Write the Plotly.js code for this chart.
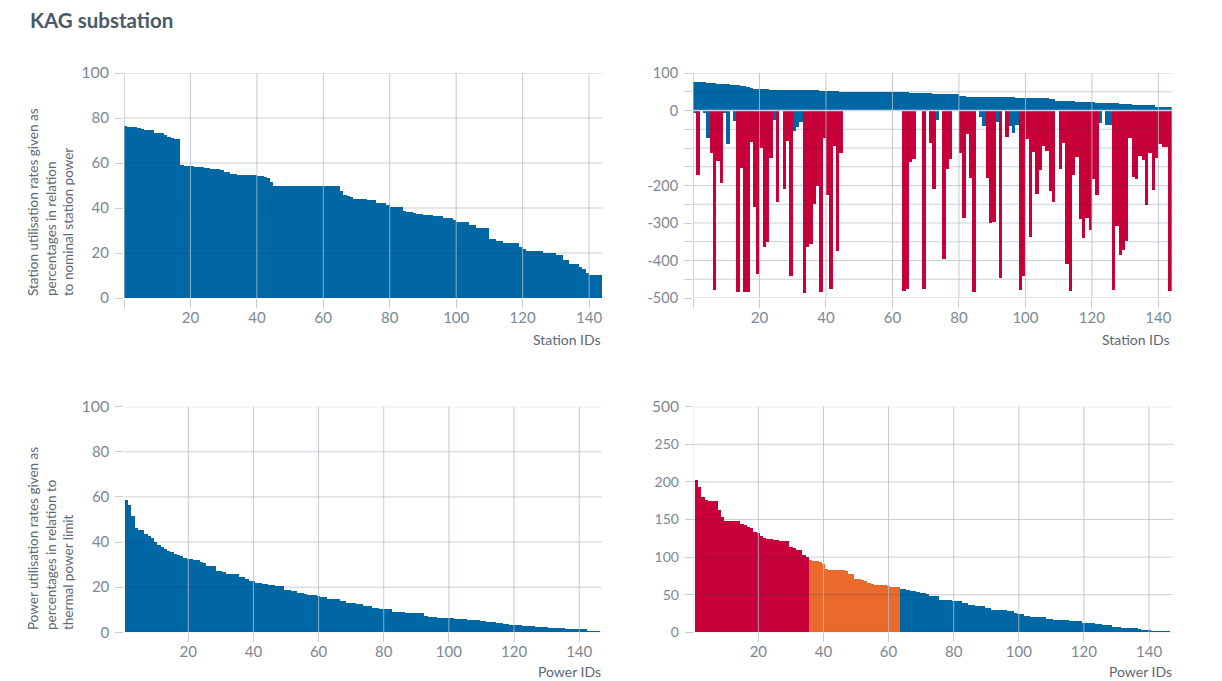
<!DOCTYPE html>
<html>
<head>
<meta charset="utf-8">
<script src="https://cdn.plot.ly/plotly-3.0.1.min.js"></script>
<style>
  html, body { margin: 0; padding: 0; background: #ffffff; }
  #chart { width: 1222px; height: 681px; }
</style>
</head>
<body>
<div id="chart"></div>
<script>
// ---------------- DATA ----------------
// Top-left: station utilisation (%), stations sorted descending
const stationUtilisation = [
  76.4, 76.0, 76.0, 76.0, 75.6, 75.0, 74.7, 74.7, 74.7, 73.3,
  73.3, 73.3, 72.3, 71.7, 71.1, 70.7, 70.7, 59.1, 58.7, 58.7,
  58.7, 58.2, 58.2, 58.2, 57.8, 57.8, 57.3, 57.3, 57.3, 56.9,
  56.0, 56.0, 55.1, 55.1, 54.7, 54.7, 54.7, 54.7, 54.7, 54.7,
  54.2, 54.2, 53.8, 53.3, 51.6, 49.8, 49.8, 49.8, 49.8, 49.8,
  49.8, 49.8, 49.8, 49.8, 49.8, 49.8, 49.8, 49.8, 49.8, 49.8,
  49.8, 49.8, 49.8, 49.8, 49.8, 47.7, 45.6, 45.3, 44.9, 44.0,
  44.0, 44.0, 44.0, 43.6, 43.6, 43.6, 42.4, 42.4, 42.4, 41.2,
  40.6, 40.6, 40.6, 40.6, 38.8, 38.2, 38.2, 37.6, 37.2, 37.2,
  36.7, 36.7, 36.7, 36.4, 36.4, 36.4, 35.6, 35.6, 35.6, 34.7,
  33.9, 33.9, 33.9, 33.9, 32.6, 32.6, 31.3, 31.0, 31.0, 31.0,
  26.4, 26.4, 25.5, 25.5, 24.6, 24.6, 24.6, 24.6, 24.6, 22.8,
  21.9, 20.9, 20.9, 20.9, 20.9, 20.9, 20.1, 20.1, 20.1, 20.1,
  19.3, 19.3, 16.9, 16.9, 15.1, 15.1, 15.1, 13.9, 12.7, 11.0,
  10.2, 10.2, 10.2, 10.2
];

// Top-right: positive part (blue)
const stationPositive = [
  76, 76, 76, 76, 73.5, 73.5, 73.5, 71, 71, 71,
  71, 68, 68, 68, 65, 65, 62, 59, 57, 57,
  57, 57, 57, 55, 55, 55, 55, 55, 55, 55,
  55, 55, 55, 55, 55, 55, 55, 55, 52, 52,
  52, 52, 52, 52, 49.5, 49.5, 49.5, 49.5, 49.5, 49.5,
  49.5, 49.5, 49.5, 49.5, 49.5, 49.5, 49.5, 49.5, 49.5, 49.5,
  49.5, 49.5, 49.5, 49.5, 49.5, 46, 46, 46, 46, 46,
  46, 46, 43, 43, 43, 43, 43, 43, 43, 43,
  39, 39, 37, 37, 37, 37, 37, 37, 37, 37,
  37, 37, 37, 37, 37, 37, 37, 34, 34, 34,
  34, 34, 34, 34, 34, 34, 34, 30, 30, 26.5,
  26.5, 26.5, 26.5, 26.5, 26.5, 23.5, 23.5, 23.5, 23.5, 23.5,
  23.5, 21, 21, 21, 21, 21, 21, 21, 17.5, 17.5,
  17.5, 17.5, 14.5, 14.5, 14.5, 14.5, 14.5, 14.5, 14.5, 10,
  10, 10, 10, 10
];

// Top-right: negative part, with its colour class (R = red, B = blue)
const stationNegative = [
  -7, -172, null, -7, -72, -114, -479, -135, -194, -6,
  -88, null, -27, -483, -152, -483, -483, -83, -256, -437,
  -99, -363, -350, -126, -24, -243, null, -209, -80, -440,
  -54, -43, -30, -486, -363, -356, -249, -201, -483, -72,
  -225, -476, -95, -374, -112, null, null, null, null, null,
  null, null, null, null, null, null, null, null, null, null,
  null, null, null, -480, -476, -136, -129, null, null, -476,
  null, -86, -209, -25, null, -396, -156, -129, null, null,
  -112, -286, -63, -179, -483, null, -16, -40, -179, -299,
  -296, -30, -446, null, -70, -40, -59, -39, -479, -441,
  -76, -338, -110, -223, -159, -95, -107, -214, -243, null,
  -156, -86, -409, -480, -172, -125, -289, -339, -286, -319,
  -183, -225, -32, null, -39, -39, -479, -308, -385, -372,
  -347, -74, -178, -183, -121, -132, -252, -112, -212, -126,
  -88, -96, -96, -480
];
const stationNegativeClass = [
  'B','R','','B','B','R','R','R','R','B',
  'B','','B','R','R','R','R','R','R','R',
  'R','R','R','R','B','R','','R','R','R',
  'B','B','B','R','R','R','R','R','R','R',
  'R','R','R','R','R','','','','','',
  '','','','','','','','','','',
  '','','','R','R','R','R','','','R',
  '','R','R','B','','R','R','R','','',
  'R','R','R','R','R','','B','B','R','R',
  'R','B','R','','R','B','B','B','R','R',
  'R','R','R','R','R','R','R','R','R','',
  'R','R','R','R','R','R','R','R','R','R',
  'R','R','B','','B','B','R','R','R','R',
  'R','R','R','R','R','R','R','R','R','R',
  'R','R','R','R'
];

// Bottom-left: power utilisation (%) relative to thermal power limit
const powerUtilisation = [
  58.6, 56.4, 51.6, 46.4, 45.3, 45.3, 43.6, 42.8, 41.8, 40.2,
  38.6, 37.6, 37.0, 36.2, 35.4, 34.8, 34.4, 33.7, 33.1, 32.6,
  32.6, 32.2, 32.1, 31.2, 30.7, 29.5, 29.5, 29.5, 27.2, 27.2,
  26.7, 26.0, 26.0, 25.7, 25.7, 24.4, 24.4, 23.6, 22.7, 22.7,
  22.0, 22.0, 21.4, 21.4, 21.0, 21.0, 20.5, 20.5, 20.5, 18.9,
  18.9, 18.4, 18.4, 17.6, 17.4, 17.0, 16.6, 16.6, 16.6, 16.3,
  15.5, 15.5, 14.7, 14.7, 14.7, 14.7, 13.9, 13.9, 13.1, 13.1,
  13.1, 12.4, 12.4, 11.6, 11.6, 11.6, 10.6, 10.6, 10.3, 10.3,
  10.3, 10.3, 9.1, 9.1, 9.1, 9.1, 8.7, 8.7, 8.7, 8.4,
  8.4, 8.4, 7.2, 6.7, 6.7, 6.7, 6.2, 6.2, 6.2, 6.2,
  6.2, 5.7, 5.7, 5.7, 5.7, 5.4, 5.4, 5.4, 5.4, 4.9,
  4.9, 4.6, 4.6, 4.6, 4.0, 4.0, 3.6, 3.6, 3.3, 3.3,
  3.3, 3.3, 2.7, 2.7, 2.7, 2.7, 2.2, 2.2, 2.2, 2.2,
  1.8, 1.8, 1.8, 1.8, 1.8, 1.5, 1.5, 1.5, 1.5, 1.5,
  1.4, 1.4, 0.6, 0.6, 0.6, 0.6, 0.2
];

// Bottom-right: power values
const powerValues = [
  202.5, 192.8, 179.5, 176, 174.7, 174.7, 174.7, 162.6, 152.9, 148,
  148, 148, 148, 148, 143.6, 142.3, 140.5, 138.3, 133, 131.7,
  128.1, 125.9, 124.2, 124.2, 122.9, 122.9, 122, 122, 122, 113.6,
  111.8, 110, 110, 103.4, 100.5, 96.3, 95, 95, 93.6, 91,
  84.3, 83, 83, 83, 83, 83, 81.7, 77.7, 77.7, 71,
  71, 69.7, 67.9, 65.3, 64, 63, 63, 63, 63, 61.8,
  60.4, 60.4, 60.4, 57.8, 57, 56.4, 55.1, 55.1, 53.8, 52.9,
  52.9, 51.1, 48.9, 48.9, 48.9, 43.1, 43.1, 43.1, 43.1, 41.8,
  41.8, 41.8, 38.7, 38.7, 36.5, 36.5, 35.1, 35.1, 35.1, 32,
  32, 29.8, 29.8, 29.8, 29.8, 29.8, 28.5, 28.5, 26.3, 24.5,
  24.5, 21.9, 21.9, 20.1, 20.1, 20.1, 20.1, 20.1, 18.3, 18.3,
  16.6, 16.6, 16.6, 16.6, 16.6, 14.8, 14.8, 14.8, 14.8, 12.6,
  12.6, 12.6, 12.6, 10.9, 10.9, 9.1, 9.1, 9.1, 6.5, 6.5,
  6.5, 5.6, 5.6, 5.6, 5.6, 5.6, 4.3, 3.4, 3.4, 3.4,
  2.1, 2.1, 2.1, 2.1, 2.1, 2.1, 1.0
];
const powerThresholds = { high: 100, mid: 60 };

// Axis ticks
const idTickVals = [0, 20, 40, 60, 80, 100, 120, 140];
const idTickText = ['', '20', '40', '60', '80', '100', '120', '140'];
const pctTickVals = [0, 20, 40, 60, 80, 100];
const pctTickText = ['0', '20', '40', '60', '80', '<span style="font-size:16px">100</span>'];
const diffTickVals = [-500, -450, -400, -350, -300, -250, -200, -150, -100, -50, 0, 50, 100];
const diffTickText = ['-500', '', '-400', '', '-300', '', '-200', '', '', '', '0', '', '100'];
const powTickVals = [0, 50, 100, 150, 200, 250, 300];
const powTickText = ['0', '50', '100', '150', '200', '250', '<span style="font-size:15.5px">500</span>'];

// ---------------- STYLE ----------------
const BLUE = '#0067a5';
const RED = '#c8003a';
const ORANGE = '#e96a2b';
const GRID_H = 'rgba(35,55,75,0.24)';
const GRID_V = 'rgba(178,190,202,0.8)';
const TICK = '#c6ced6';
const FONT = 'Lato, "Open Sans", sans-serif';
const LABEL = '#7b8894';
const TITLE = '#5c6873';

const stationIds = stationUtilisation.map((_, i) => i + 1);
const powerIds = powerUtilisation.map((_, i) => i + 1);

const W = 1222, H = 681;
const px = v => v / W;
const py = v => 1 - v / H;

const traces = [
  { type: 'bar', x: stationIds, y: stationUtilisation, width: 1, offset: -1,
    marker: { color: BLUE, line: { width: 0 } }, xaxis: 'x', yaxis: 'y', hoverinfo: 'skip' },
  { type: 'bar', x: stationIds, y: stationPositive, width: 1, offset: -1,
    marker: { color: BLUE, line: { width: 0 } }, xaxis: 'x2', yaxis: 'y2', hoverinfo: 'skip' },
  { type: 'bar', x: stationIds, y: stationNegative, width: 1, offset: -1,
    marker: { color: stationNegativeClass.map(c => c === 'B' ? BLUE : RED), line: { width: 0 } },
    xaxis: 'x2', yaxis: 'y2', hoverinfo: 'skip' },
  { type: 'bar', x: powerIds, y: powerUtilisation, width: 1,
    marker: { color: BLUE, line: { width: 0 } }, xaxis: 'x3', yaxis: 'y3', hoverinfo: 'skip' },
  { type: 'bar', x: powerIds, y: powerValues, width: 1,
    marker: { color: powerValues.map(v => v >= powerThresholds.high ? RED : (v >= powerThresholds.mid ? ORANGE : BLUE)), line: { width: 0 } },
    xaxis: 'x4', yaxis: 'y4', hoverinfo: 'skip' }
];

function xAxis(domain, range, anchor) {
  return {
    domain, range, anchor, tickmode: 'array', tickvals: idTickVals, ticktext: idTickText,
    ticks: 'outside', ticklen: 9, tickwidth: 1, tickcolor: TICK, ticklabelstandoff: -3,
    showgrid: false, zeroline: false, showline: false, fixedrange: true,
    tickfont: { family: FONT, size: 15, color: LABEL }
  };
}
function yAxis(domain, range, anchor, vals, text, size) {
  return {
    domain, range, anchor, tickmode: 'array', tickvals: vals, ticktext: text,
    ticks: 'outside', ticklen: 8, tickwidth: 1, tickcolor: TICK, ticklabelstandoff: 3,
    showgrid: false, zeroline: false, showline: false, fixedrange: true,
    tickfont: { family: FONT, size: size, color: LABEL }
  };
}

const topY = [py(298), py(73)];
const botY = [py(632.3), py(406.7)];

const layout = {
  width: W, height: H,
  margin: { l: 0, r: 0, t: 0, b: 0, pad: 0 },
  paper_bgcolor: '#ffffff', plot_bgcolor: 'rgba(0,0,0,0)',
  showlegend: false, barmode: 'overlay', bargap: 0,
  font: { family: FONT, color: LABEL },
  xaxis: xAxis([px(124), px(602.7)], [0, 144.1], 'y'),
  yaxis: yAxis(topY, [0, 100], 'x', pctTickVals, pctTickText, 15),
  xaxis2: xAxis([px(693), px(1171.7)], [0, 144], 'y2'),
  yaxis2: yAxis(topY, [-500, 100], 'x2', diffTickVals, diffTickText, 14.5),
  xaxis3: xAxis([px(124.3), px(601.7)], [0.37, 146.9], 'y3'),
  yaxis3: yAxis(botY, [0, 100], 'x3', pctTickVals, pctTickText, 15),
  xaxis4: xAxis([px(693.7), px(1173.3)], [0.15, 147.45], 'y4'),
  yaxis4: yAxis(botY, [0, 300], 'x4', powTickVals, powTickText, 14),
  shapes: [],
  annotations: [
    { text: '<b>KAG substation</b>', xref: 'paper', yref: 'paper', x: px(28), y: py(20),
      xanchor: 'left', yanchor: 'middle', showarrow: false,
      font: { family: FONT, size: 20.5, color: '#4b5967' } },
    { text: 'Station utilisation rates given as<br>percentages in relation<br>to nominal station power',
      xref: 'paper', yref: 'paper', x: px(50), y: py(298), xanchor: 'center', yanchor: 'bottom',
      textangle: -90, align: 'left', showarrow: false, font: { family: FONT, size: 13.5, color: TITLE } },
    { text: 'Power utilisation rates given as<br>percentages in relation to<br>thermal power limit',
      xref: 'paper', yref: 'paper', x: px(50), y: py(632.5), xanchor: 'center', yanchor: 'bottom',
      textangle: -90, align: 'left', showarrow: false, font: { family: FONT, size: 13.5, color: TITLE } },
    { text: 'Station IDs', xref: 'paper', yref: 'paper', x: px(602.5), y: py(339),
      xanchor: 'right', yanchor: 'middle', showarrow: false, font: { family: FONT, size: 14, color: TITLE } },
    { text: 'Station IDs', xref: 'paper', yref: 'paper', x: px(1172), y: py(339),
      xanchor: 'right', yanchor: 'middle', showarrow: false, font: { family: FONT, size: 14, color: TITLE } },
    { text: 'Power IDs', xref: 'paper', yref: 'paper', x: px(602.5), y: py(671),
      xanchor: 'right', yanchor: 'middle', showarrow: false, font: { family: FONT, size: 14, color: TITLE } },
    { text: 'Power IDs', xref: 'paper', yref: 'paper', x: px(1173.5), y: py(671),
      xanchor: 'right', yanchor: 'middle', showarrow: false, font: { family: FONT, size: 14, color: TITLE } }
  ]
};

// Gridlines drawn above the bars (as in the reference)
function addGrid(xa, ya, xVals, yVals) {
  yVals.forEach(v => layout.shapes.push({
    type: 'line', layer: 'above', xref: xa + ' domain', yref: ya, x0: 0, x1: 1, y0: v, y1: v,
    line: { color: GRID_H, width: 1 }
  }));
  xVals.forEach(v => layout.shapes.push({
    type: 'line', layer: 'above', xref: xa, yref: ya + ' domain', x0: v, x1: v, y0: 0, y1: 1,
    line: { color: GRID_V, width: v === 0 ? 1.5 : 1 }
  }));
}
addGrid('x', 'y', idTickVals, pctTickVals);
addGrid('x2', 'y2', idTickVals, diffTickVals);
addGrid('x3', 'y3', idTickVals, pctTickVals);
addGrid('x4', 'y4', idTickVals, powTickVals);
// light zero line between positive and negative parts
layout.shapes.push({ type: 'line', layer: 'above', xref: 'x2 domain', yref: 'y2', x0: 0, x1: 1, y0: 0, y1: 0,
  line: { color: '#cdd4db', width: 1.5 } });

Plotly.newPlot('chart', traces, layout, { staticPlot: true, displayModeBar: false });
</script>
</body>
</html>
